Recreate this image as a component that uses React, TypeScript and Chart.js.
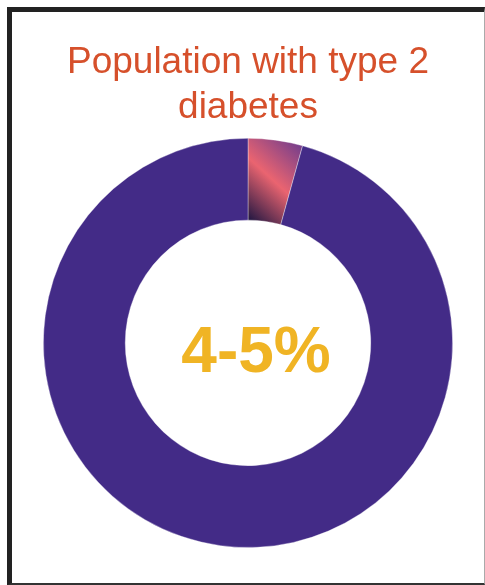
import React, { useEffect, useRef } from "react";
import { Chart, registerables } from "chart.js";

Chart.register(...registerables);

const categories = ["Type 2 diabetes", "Rest of population"];
const values = [4.3, 95.7];
const titleLines = ["Population with type 2", "diabetes"];
const centerLabel = "4-5%";

const FONT = "'Liberation Sans', Arial, Helvetica, sans-serif";

const centerTextPlugin = {
  id: "centerText",
  afterDraw(chart: any) {
    const meta = chart.getDatasetMeta(0);
    const arc = meta.data[0];
    if (!arc) return;
    const { x, y } = arc.getProps(["x", "y"], true);
    const ctx = chart.ctx;
    ctx.save();
    ctx.font = `bold 64px ${FONT}`;
    ctx.fillStyle = "#f0b424";
    ctx.textAlign = "center";
    ctx.textBaseline = "alphabetic";
    ctx.fillText(centerLabel, x + 8, y + 29);
    ctx.restore();
  },
};

export default function App() {
  const ref = useRef<HTMLCanvasElement | null>(null);

  useEffect(() => {
    if (!ref.current) return;
    const chart = new Chart(ref.current, {
      type: "doughnut",
      data: {
        labels: categories,
        datasets: [
          {
            data: values,
            backgroundColor: (c: any) => {
              if (c.dataIndex !== 0) return "#432b87";
              const ch = c.chart;
              const area = ch.chartArea;
              if (!area) return "#e8646e";
              const cx = (area.left + area.right) / 2;
              const cy = (area.top + area.bottom) / 2;
              const r = Math.min(area.right - area.left, area.bottom - area.top) / 2;
              const g = ch.ctx.createLinearGradient(
                cx - 0.04 * r,
                cy - 0.62 * r,
                cx + 0.28 * r,
                cy - 0.97 * r
              );
              g.addColorStop(0, "#15123f");
              g.addColorStop(0.5, "#ea6470");
              g.addColorStop(1, "#6b3b8e");
              return g;
            },
            borderColor: "rgba(255,255,255,0.35)",
            borderWidth: 1,
          },
        ],
      },
      options: {
        responsive: false,
        animation: false,
        cutout: "60%",
        layout: { padding: { bottom: 35 } },
        plugins: {
          legend: { display: false },
          tooltip: { enabled: false },
          title: {
            display: true,
            text: titleLines,
            color: "#d6502b",
            font: { family: FONT, size: 37, weight: "normal", lineHeight: 1.2 },
            padding: { top: 29, bottom: 8 },
          },
        },
      },
      plugins: [centerTextPlugin],
    });
    return () => chart.destroy();
  }, []);

  return (
    <div
      style={{
        position: "fixed",
        left: 7,
        top: 7,
        width: 478,
        height: 578,
        boxSizing: "border-box",
        borderTop: "5px solid #222",
        borderLeft: "5px solid #222",
        borderBottom: "2px solid #333",
        borderRight: "1px solid #aaa",
        background: "#fff",
      }}
    >
      <canvas ref={ref} width={472} height={571} style={{ display: "block", width: 472, height: 571 }} />
    </div>
  );
}
